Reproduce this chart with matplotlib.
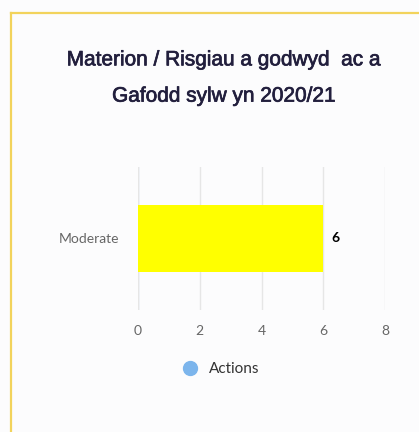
import matplotlib.pyplot as plt
from matplotlib.lines import Line2D
import matplotlib.patheffects as pe

categories = ["Moderate"]
values = [6]
xticks = [0, 2, 4, 6, 8]
series_name = "Actions"
title = "Materion / Risgiau a godwyd  ac a\nGafodd sylw yn 2020/21"

fig = plt.figure(figsize=(4.19, 4.32), dpi=100, facecolor="#fcfcfd")

# yellow frame (left and top edges visible)
fig.add_artist(Line2D([11 / 419, 11 / 419], [0, 1 - 13 / 432], color="#f2d35c", lw=1.6,
                      transform=fig.transFigure))
fig.add_artist(Line2D([11 / 419, 1], [1 - 13 / 432, 1 - 13 / 432], color="#f2d35c", lw=1.6,
                      transform=fig.transFigure))

t = fig.text(224 / 419, 1 - 78 / 432, title, ha="center", va="center", fontsize=15,
             color="#221f3d", family="Liberation Sans", linespacing=2.15)
t.set_path_effects([pe.withStroke(linewidth=0.5, foreground="#221f3d")])

ax = fig.add_axes([138 / 419, 1 - 310 / 432, (385 - 138) / 419, (310 - 167) / 432])
ax.set_facecolor("none")
ax.barh(categories, values, height=0.475, color="#ffff00", zorder=3)
ax.set_xlim(0, 8)
ax.set_ylim(-0.5, 0.5)
ax.set_xticks(xticks)
ax.grid(axis="x", color="#e6e6e6", lw=1, zorder=0)
ax.axvline(0, color="#ccd6eb", lw=1, zorder=1)
for s in ax.spines.values():
    s.set_visible(False)
ax.tick_params(length=0, labelsize=10, labelcolor="#666666", pad=11)
ax.tick_params(axis="y", pad=13.5)
for lab in ax.get_xticklabels() + ax.get_yticklabels():
    lab.set_family("Lato")

for i, v in enumerate(values):
    ax.text(v + 0.25, i, str(v), va="center", ha="left", fontsize=10,
            fontweight="bold", color="#000000", family="Lato")

fig.legend(handles=[Line2D([], [], marker="o", ls="", color="#7cb5ec", markersize=10,
                           label=series_name)],
           loc="center", bbox_to_anchor=(217 / 419, 1 - 369 / 432), frameon=False,
           prop={"family": "Lato", "size": 11}, labelcolor="#333333",
           handletextpad=0.2)

fig.savefig("out.png", dpi=100, facecolor=fig.get_facecolor())
